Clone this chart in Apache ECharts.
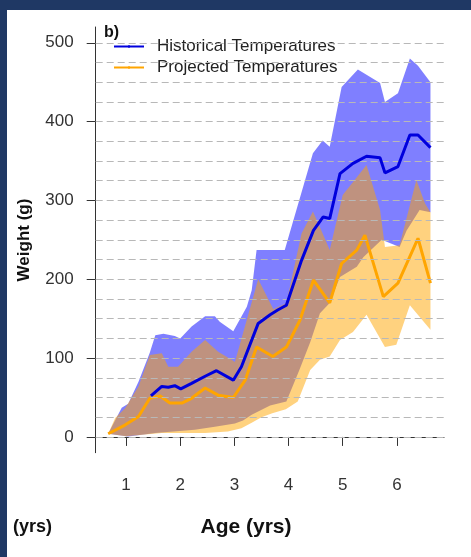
<!DOCTYPE html>
<html>
<head>
<meta charset="utf-8">
<script src="https://cdn.jsdelivr.net/npm/echarts@6/dist/echarts.min.js"></script>
<style>
  html, body { margin: 0; padding: 0; background: #1f3864; }
  #chart { position: absolute; left: 7px; top: 10px; width: 464px; height: 547px; background: #ffffff; }
</style>
</head>
<body>
<div id="chart"></div>
<script>
// Weight-at-age ranges: [age (yrs), weight (g)]
const histUpper = [[0.67,4],[0.92,37],[1.04,42],[1.23,70],[1.44,107],[1.54,129],[1.69,131],[1.90,128],[2.00,125],[2.21,140],[2.46,153],[2.64,153],[2.73,146],[2.98,134],[3.23,165],[3.32,186],[3.41,237],[3.93,237],[4.45,360],[4.63,376],[4.76,368],[4.98,444],[5.28,466],[5.69,449],[5.78,425],[6.02,436],[6.24,480],[6.39,471],[6.62,450]];
const histLower = [[0.67,4],[1.04,0.5],[1.54,5],[2.27,9],[2.64,13],[3.01,17],[3.16,21],[3.32,28],[3.66,40],[3.96,45],[4.20,85],[4.40,120],[4.58,157],[4.76,170],[4.95,203],[5.26,216],[5.38,228],[5.72,250],[6.05,241],[6.18,262],[6.42,288],[6.62,285]];
const projUpper = [[0.67,4],[0.80,24],[0.98,36],[1.23,64],[1.44,104],[1.66,106],[1.78,89],[1.96,89],[2.21,108],[2.46,123],[2.70,108],[2.95,98],[3.01,95],[3.44,200],[3.72,162],[3.96,170],[4.24,258],[4.45,286],[4.58,266],[4.76,237],[5.00,307],[5.44,345],[5.69,288],[5.78,241],[6.05,243],[6.36,326],[6.52,296],[6.62,285]];
const projLower = [[0.67,4],[1.00,1],[1.66,5],[2.46,5],[2.88,7],[3.13,11],[3.32,18],[3.50,25],[3.70,30],[3.95,35],[4.17,45],[4.40,85],[4.58,98],[4.76,102],[4.95,123],[5.19,133],[5.44,155],[5.78,114],[5.99,117],[6.24,167],[6.62,136]];

// Mean weight-at-age lines
const histMean = [[1.46,52],[1.66,64],[1.78,63],[1.90,65],[2.01,61],[2.21,68],[2.46,77],[2.67,84],[2.98,72],[3.13,89],[3.44,144],[3.66,155],[3.80,161],[3.96,167],[4.24,224],[4.46,262],[4.64,279],[4.76,277],[4.95,334],[5.19,347],[5.44,356],[5.69,354],[5.78,335],[6.02,343],[6.24,383],[6.39,383],[6.62,367]];
const projMean = [[0.67,4],[0.98,15],[1.23,26],[1.44,49],[1.63,52],[1.81,43],[2.03,43],[2.21,49],[2.46,62],[2.70,53],[2.98,50],[3.20,72],[3.41,114],[3.71,102],[3.96,114],[4.21,148],[4.46,199],[4.76,170],[4.98,220],[5.26,237],[5.41,256],[5.75,178],[6.02,195],[6.39,252],[6.62,195]];

// Axis ticks and reference lines
const xTicks = [1, 2, 3, 4, 5, 6];
const yTicks = [0, 100, 200, 300, 400, 500];
const gridValues = [0,25,50,75,100,125,150,175,200,225,250,275,300,325,350,375,400,425,450,475,500];
const seriesNames = ['Historical Temperatures', 'Projected Temperatures'];

const FONT = '"Liberation Sans", Arial, sans-serif';

function bandSeries(upper, lower, color, z) {
  return {
    type: 'custom',
    z: z,
    silent: true,
    data: upper,
    renderItem: function (params, api) {
      if (params.dataIndex !== 0) return;
      const pts = upper.map(p => api.coord(p))
        .concat(lower.slice().reverse().map(p => api.coord(p)));
      return { type: 'polygon', shape: { points: pts }, style: { fill: color } };
    }
  };
}

const chart = echarts.init(document.getElementById('chart'), null, { renderer: 'canvas' });
chart.setOption({
  backgroundColor: 'transparent',
  animation: false,
  textStyle: { fontFamily: FONT },
  grid: { left: 88.7, right: 27, top: 17, bottom: 104.3 },
  xAxis: {
    type: 'value', min: 0.44, max: 6.87,
    axisLine: { show: true, lineStyle: { color: '#333', width: 1 } },
    axisTick: { show: true, length: 9, customValues: xTicks, lineStyle: { color: '#333' } },
    axisLabel: { customValues: xTicks, margin: 24, fontSize: 17, color: '#333', fontFamily: FONT },
    splitLine: { show: false }
  },
  yAxis: {
    type: 'value', min: -20, max: 520,
    axisLine: { show: true, lineStyle: { color: '#333', width: 1 } },
    axisTick: { show: true, length: 9, customValues: yTicks, lineStyle: { color: '#333' } },
    axisLabel: { customValues: yTicks, margin: 22, fontSize: 17, color: '#333', fontFamily: FONT },
    splitLine: { show: false }
  },
  legend: {
    data: seriesNames,
    orient: 'vertical',
    left: 101, top: 23,
    itemWidth: 30, itemHeight: 3, itemGap: 4,
    textStyle: { fontSize: 17, color: '#222', fontFamily: FONT, padding: [2, 0, 0, 8] }
  },
  graphic: [
    { type: 'text', x: 97, y: 23, style: { text: 'b)', font: 'bold 16px ' + FONT, fill: '#111', verticalAlign: 'middle' } },
    { type: 'text', x: 239, y: 517, style: { text: 'Age (yrs)', font: 'bold 21px ' + FONT, fill: '#111', align: 'center', verticalAlign: 'middle' } },
    { type: 'text', x: 6, y: 517, style: { text: '(yrs)', font: 'bold 18px ' + FONT, fill: '#111', align: 'left', verticalAlign: 'middle' } },
    { type: 'text', x: 17, y: 230, rotation: Math.PI / 2, style: { text: 'Weight (g)', font: 'bold 17px ' + FONT, fill: '#111', align: 'center', verticalAlign: 'middle' } }
  ],
  series: [
    bandSeries(histUpper, histLower, 'rgba(0,0,255,0.5)', 1),
    bandSeries(projUpper, projLower, 'rgba(255,165,0,0.5)', 2),
    {
      type: 'line', z: 3, data: [], silent: true,
      markLine: {
        silent: true, symbol: ['none', 'none'], label: { show: false },
        lineStyle: { color: '#b8b8b8', type: [7, 4], width: 1 },
        data: gridValues.map(v => ({ yAxis: v }))
      }
    },
    {
      name: seriesNames[0], type: 'line', z: 5, data: histMean, legendIcon: 'rect',
      symbol: 'none', lineStyle: { color: '#0000dd', width: 3 }, itemStyle: { color: '#0000dd' }
    },
    {
      name: seriesNames[1], type: 'line', z: 4, data: projMean, legendIcon: 'rect',
      symbol: 'none', lineStyle: { color: '#ffa500', width: 3 }, itemStyle: { color: '#ffa500' }
    }
  ]
});
</script>
</body>
</html>
